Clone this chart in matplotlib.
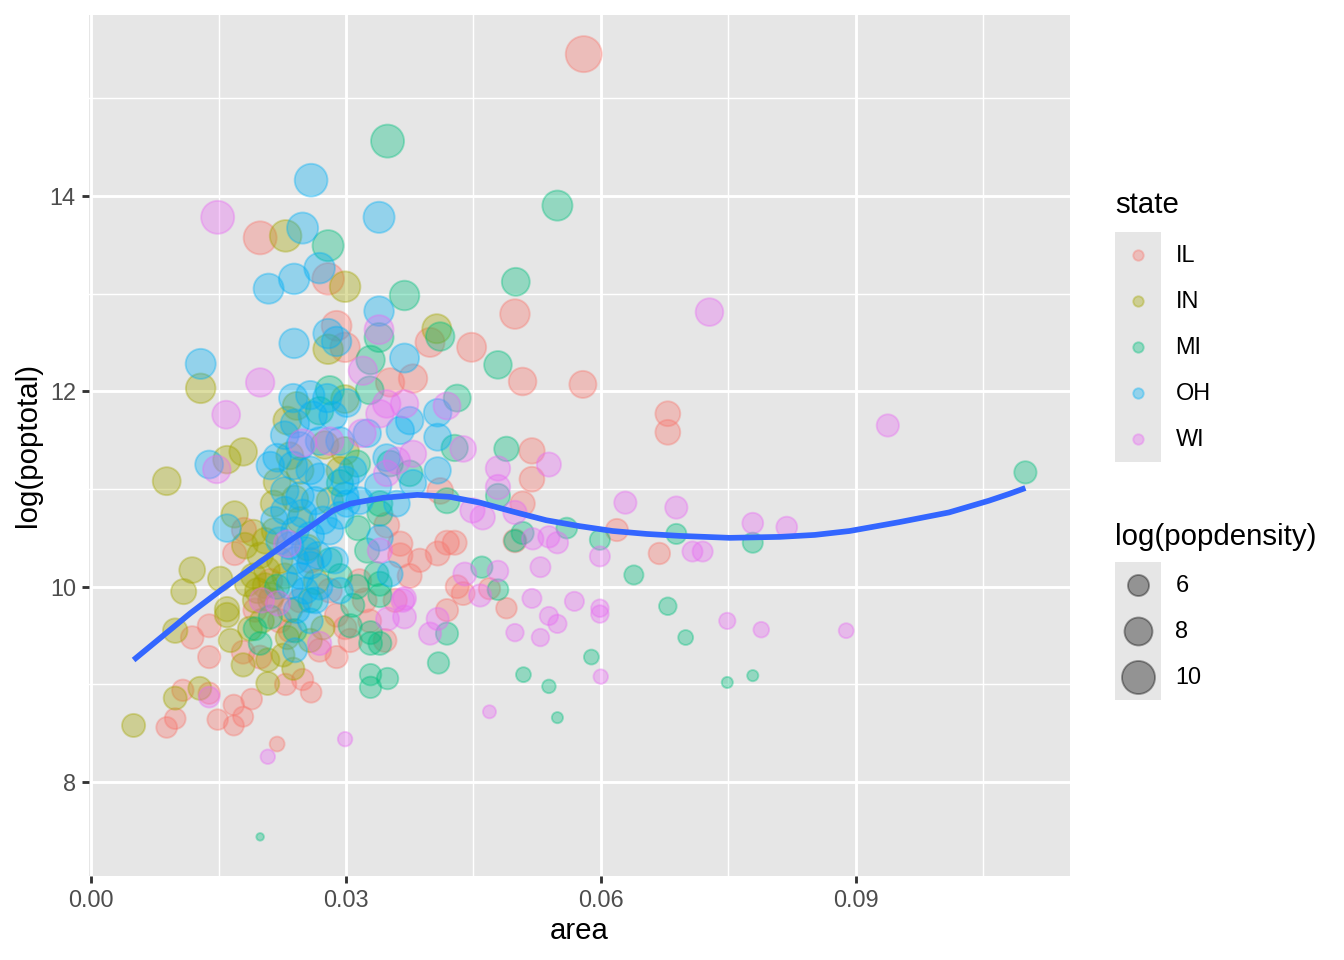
import numpy as np
import matplotlib
matplotlib.use("Agg")
import matplotlib.pyplot as plt
from matplotlib.patches import Rectangle

plt.rcParams['font.family'] = ['Liberation Sans', 'DejaVu Sans']

# ---------------- data: (area, log(poptotal), log(popdensity)) ----------------
IL = [(0.0580, 15.45, 11.39), (0.0199, 13.57, 10.0), (0.0279, 13.15, 9.4), (0.0499, 12.79, 8.6),
      (0.0289, 12.67, 8.7), (0.0299, 12.45, 8.6), (0.0399, 12.50, 8.4), (0.0448, 12.45, 8.4),
      (0.0379, 12.13, 8.2), (0.0352, 12.09, 8.2), (0.0508, 12.10, 7.9), (0.0579, 12.07, 7.7),
      (0.0679, 11.77, 7.0), (0.0679, 11.58, 7.0), (0.0519, 11.39, 7.2), (0.0519, 11.10, 7.0),
      (0.0508, 10.85, 6.9), (0.0499, 10.47, 6.5), (0.0619, 10.58, 6.3), (0.0669, 10.34, 6.1),
      (0.0469, 9.98, 6.1), (0.0489, 9.78, 5.9), (0.0419, 9.76, 6.3), (0.0438, 9.93, 6.5),
      (0.0411, 10.98, 7.3), (0.0348, 10.63, 7.1), (0.0364, 10.44, 6.9), (0.0364, 10.32, 6.9),
      (0.0419, 10.45, 6.8), (0.0428, 10.45, 6.8), (0.0408, 10.34, 6.8), (0.0431, 10.00, 6.5),
      (0.0328, 9.65, 6.5), (0.0299, 9.58, 6.5), (0.0289, 9.71, 6.6), (0.0289, 9.28, 6.3),
      (0.0180, 10.58, 6.9), (0.0169, 10.34, 6.6), (0.0139, 9.60, 6.5), (0.0119, 9.48, 6.4),
      (0.0139, 9.28, 6.3), (0.0179, 9.33, 6.5), (0.0199, 9.28, 6.5), (0.0229, 9.00, 6.1),
      (0.0249, 9.05, 6.1), (0.0259, 8.92, 5.95), (0.0108, 8.94, 6.1), (0.0139, 8.91, 6.1),
      (0.0099, 8.65, 5.95), (0.0089, 8.56, 5.95), (0.0149, 8.64, 5.9), (0.0168, 8.79, 5.9),
      (0.0189, 8.85, 5.95), (0.0179, 8.67, 5.8), (0.0168, 8.58, 5.8), (0.0219, 8.39, 4.9),
      (0.0246, 9.86, 6.8), (0.0222, 9.65, 6.6), (0.0269, 9.35, 6.5), (0.0305, 9.45, 6.6),
      (0.0322, 9.86, 6.8), (0.0375, 10.11, 6.8), (0.0211, 10.06, 6.8), (0.0258, 10.27, 7.1),
      (0.0281, 9.96, 6.8), (0.0234, 9.55, 6.5), (0.0193, 9.76, 6.6), (0.0346, 9.45, 6.5),
      (0.0358, 9.86, 6.6), (0.0387, 10.27, 6.6), (0.0316, 10.06, 6.6)]

IN = [(0.0229, 13.59, 9.4), (0.0299, 13.07, 9.0), (0.0279, 12.43, 8.6), (0.0407, 12.64, 8.4),
      (0.0129, 12.03, 8.6), (0.0231, 11.70, 8.0), (0.0179, 11.38, 7.9), (0.0160, 11.30, 7.9),
      (0.0089, 11.08, 8.0), (0.0219, 11.07, 7.7), (0.0169, 10.74, 7.5), (0.0191, 10.55, 7.5),
      (0.0119, 10.17, 7.3), (0.0109, 9.95, 7.1), (0.0160, 9.77, 6.9), (0.0099, 9.55, 6.9),
      (0.0160, 9.71, 6.9), (0.0187, 9.57, 6.8), (0.0179, 9.20, 6.6), (0.0208, 9.25, 6.6),
      (0.0208, 9.01, 6.5), (0.0238, 9.16, 6.3), (0.0231, 9.48, 6.6), (0.0273, 9.58, 6.6),
      (0.0128, 8.96, 6.5), (0.0099, 8.86, 6.5), (0.0050, 8.58, 6.5), (0.0207, 10.17, 7.3),
      (0.0184, 10.03, 7.1), (0.0199, 10.32, 7.3), (0.0205, 10.47, 7.3), (0.0216, 10.57, 7.3),
      (0.0193, 9.86, 6.9), (0.0211, 9.86, 6.9), (0.0228, 10.11, 7.1), (0.0234, 9.76, 6.9),
      (0.0201, 9.65, 6.8), (0.0246, 11.19, 7.7), (0.0234, 11.34, 7.7), (0.0281, 10.88, 7.5),
      (0.0293, 11.19, 7.7), (0.0258, 9.45, 6.6), (0.0226, 9.30, 6.5), (0.0181, 10.42, 7.3),
      (0.0222, 10.27, 7.3), (0.0246, 10.68, 7.5), (0.0191, 10.11, 7.1), (0.0196, 9.96, 7.1),
      (0.0205, 10.01, 7.1), (0.0213, 9.91, 7.0), (0.0299, 11.39, 7.9), (0.0299, 11.92, 8.0),
      (0.0242, 11.85, 8.0), (0.0164, 9.45, 6.6), (0.0152, 10.08, 6.9), (0.0255, 10.40, 7.3),
      (0.0265, 10.05, 7.1), (0.0240, 10.90, 7.5), (0.0215, 10.85, 7.4), (0.0275, 11.45, 7.9)]

MI = [(0.0349, 14.56, 10.0), (0.0549, 13.90, 8.8), (0.0279, 13.49, 9.2), (0.0500, 13.12, 8.0),
      (0.0369, 12.98, 8.6), (0.0339, 12.55, 8.4), (0.0411, 12.56, 8.2), (0.0329, 12.32, 8.2),
      (0.0479, 12.27, 7.9), (0.0281, 12.01, 8.2), (0.0328, 12.01, 8.0), (0.0431, 11.93, 7.7),
      (0.0428, 11.42, 7.5), (0.0313, 11.26, 7.5), (0.0293, 11.06, 7.5), (0.0375, 11.16, 7.3),
      (0.0419, 10.88, 7.1), (0.0340, 10.85, 7.1), (0.0340, 10.75, 7.1), (0.0314, 10.60, 6.9),
      (0.0325, 10.37, 6.9), (0.0336, 10.13, 6.8), (0.0340, 10.03, 6.8), (0.0313, 10.00, 6.8),
      (0.0340, 9.91, 6.6), (0.0308, 9.81, 6.6), (0.0329, 9.53, 6.5), (0.0329, 9.42, 6.5),
      (0.0340, 9.42, 6.5), (0.0329, 9.10, 6.1), (0.0349, 9.06, 6.1), (0.0329, 8.97, 6.1),
      (0.0409, 9.22, 6.1), (0.0419, 9.52, 6.3), (0.0199, 9.42, 6.5), (0.0219, 10.00, 6.9),
      (0.0211, 9.69, 6.6), (0.0193, 9.57, 6.5), (0.0258, 9.86, 6.8), (0.0281, 10.27, 6.9),
      (0.0293, 10.11, 6.8), (0.0240, 9.55, 6.6), (0.0305, 9.60, 6.6), (0.0479, 10.93, 6.8),
      (0.0489, 11.41, 6.9), (0.0460, 10.20, 6.1), (0.0479, 9.97, 5.95), (0.0508, 10.55, 6.3),
      (0.0499, 10.47, 6.1), (0.0560, 10.60, 5.95), (0.0599, 10.48, 5.8), (0.0639, 10.12, 5.6),
      (0.0689, 10.54, 5.8), (0.0779, 10.45, 5.8), (0.0679, 9.80, 5.3), (0.0700, 9.48, 4.9),
      (0.0589, 9.28, 4.9), (0.0509, 9.10, 4.9), (0.0539, 8.98, 4.75), (0.0749, 9.02, 4.55),
      (0.0779, 9.09, 4.55), (0.0549, 8.66, 4.55), (0.1100, 11.17, 6.3), (0.0199, 7.44, 4.44),
      (0.0269, 11.80, 7.9), (0.0352, 11.26, 7.3)]

OH = [(0.0259, 14.16, 9.9), (0.0249, 13.67, 9.2), (0.0339, 13.78, 9.2), (0.0269, 13.26, 9.0),
      (0.0239, 13.15, 9.0), (0.0209, 13.05, 8.8), (0.0339, 12.82, 8.6), (0.0279, 12.59, 8.6),
      (0.0289, 12.51, 8.6), (0.0239, 12.49, 8.6), (0.0369, 12.34, 8.4), (0.0129, 12.28, 8.8),
      (0.0139, 11.25, 8.0), (0.0160, 10.60, 7.9), (0.0238, 11.93, 8.2), (0.0258, 11.96, 8.2),
      (0.0278, 11.93, 8.2), (0.0240, 11.67, 8.2), (0.0261, 11.75, 8.2), (0.0228, 11.55, 8.0),
      (0.0246, 11.44, 8.0), (0.0269, 11.49, 8.0), (0.0219, 11.32, 8.0), (0.0238, 11.24, 8.0),
      (0.0258, 11.19, 8.0), (0.0269, 11.12, 8.0), (0.0228, 10.98, 7.9), (0.0246, 10.93, 7.9),
      (0.0264, 10.88, 7.9), (0.0228, 10.78, 7.9), (0.0249, 10.75, 7.9), (0.0273, 10.68, 7.9),
      (0.0240, 10.57, 7.9), (0.0258, 10.52, 7.9), (0.0234, 10.42, 7.7), (0.0252, 10.37, 7.7),
      (0.0267, 10.32, 7.7), (0.0240, 10.27, 7.7), (0.0258, 10.22, 7.7), (0.0246, 10.11, 7.5),
      (0.0234, 10.01, 7.5), (0.0252, 9.96, 7.5), (0.0264, 9.86, 7.3), (0.0242, 9.76, 7.3),
      (0.0258, 9.65, 7.1), (0.0240, 9.35, 6.8), (0.0281, 10.57, 7.7), (0.0293, 10.73, 7.7),
      (0.0299, 10.93, 7.7), (0.0287, 10.27, 7.5), (0.0293, 9.96, 7.3), (0.0216, 10.68, 7.7),
      (0.0222, 10.47, 7.7), (0.0299, 11.09, 7.9), (0.0316, 10.88, 7.7), (0.0211, 11.24, 7.9),
      (0.0293, 11.49, 8.0), (0.0285, 11.75, 8.0), (0.0301, 11.88, 8.0), (0.0308, 11.19, 7.9),
      (0.0325, 11.57, 7.9), (0.0348, 11.32, 7.7), (0.0364, 11.60, 7.9), (0.0375, 11.70, 7.9),
      (0.0408, 11.78, 7.9), (0.0408, 11.53, 7.7), (0.0408, 11.19, 7.5), (0.0379, 11.06, 7.5),
      (0.0338, 11.03, 7.5), (0.0360, 10.85, 7.3), (0.0301, 10.85, 7.5), (0.0340, 10.50, 7.3),
      (0.0352, 10.13, 7.1), (0.0269, 10.00, 7.3)]

WI = [(0.0149, 13.78, 10.0), (0.0728, 12.81, 7.9), (0.0339, 12.63, 8.4), (0.0320, 12.21, 8.2),
      (0.0199, 12.09, 8.2), (0.0159, 11.76, 8.0), (0.0148, 11.20, 7.9), (0.0249, 11.47, 7.9),
      (0.0281, 11.49, 7.9), (0.0231, 10.44, 7.7), (0.0201, 9.86, 6.9), (0.0220, 9.83, 6.9),
      (0.0269, 9.42, 6.6), (0.0319, 11.57, 7.9), (0.0340, 11.77, 7.9), (0.0348, 11.87, 7.9),
      (0.0369, 11.87, 7.9), (0.0419, 11.85, 7.7), (0.0379, 11.36, 7.5), (0.0360, 11.29, 7.5),
      (0.0348, 11.16, 7.3), (0.0438, 11.41, 7.3), (0.0449, 10.78, 6.9), (0.0461, 10.71, 6.9),
      (0.0340, 10.37, 6.9), (0.0440, 10.13, 6.5), (0.0367, 9.86, 6.5), (0.0369, 9.69, 6.5),
      (0.0349, 9.67, 6.5), (0.0369, 9.88, 6.5), (0.0399, 9.52, 6.3), (0.0408, 9.67, 6.3),
      (0.0458, 9.91, 6.3), (0.0479, 11.21, 6.9), (0.0539, 11.25, 6.8), (0.0479, 11.02, 6.9),
      (0.0499, 10.76, 6.6), (0.0629, 10.86, 6.3), (0.0689, 10.81, 6.3), (0.0520, 10.49, 6.1),
      (0.0539, 10.51, 6.1), (0.0549, 10.45, 6.1), (0.0599, 10.31, 5.8), (0.0708, 10.36, 5.8),
      (0.0720, 10.36, 5.8), (0.0779, 10.65, 5.95), (0.0819, 10.61, 5.95), (0.0529, 10.20, 5.8),
      (0.0479, 10.16, 5.95), (0.0519, 9.88, 5.6), (0.0569, 9.85, 5.6), (0.0599, 9.78, 5.3),
      (0.0599, 9.72, 5.3), (0.0539, 9.70, 5.45), (0.0549, 9.62, 5.45), (0.0499, 9.53, 5.3),
      (0.0529, 9.48, 5.3), (0.0749, 9.65, 5.1), (0.0789, 9.56, 5.0), (0.0889, 9.55, 4.9),
      (0.0938, 11.65, 6.3), (0.0600, 9.08, 4.85), (0.0469, 8.72, 4.7), (0.0299, 8.44, 4.85),
      (0.0208, 8.26, 4.85), (0.0139, 8.87, 5.95)]

states = ["IL", "IN", "MI", "OH", "WI"]
state_data = [IL, IN, MI, OH, WI]
state_colors = ["#F8766D", "#A3A500", "#00BF7D", "#00B0F6", "#E76BF3"]

# loess curve
smooth_x = [0.0050, 0.0117, 0.0152, 0.0200, 0.0234, 0.0246, 0.0269, 0.0285, 0.0305, 0.0344,
            0.0384, 0.0422, 0.0458, 0.0496, 0.0536, 0.0575, 0.0614, 0.0654, 0.0693, 0.0752,
            0.0811, 0.0852, 0.0893, 0.0951, 0.1010, 0.1057, 0.1081, 0.1100]
smooth_y = [9.25, 9.73, 9.96, 10.26, 10.47, 10.54, 10.68, 10.78, 10.85, 10.91,
            10.94, 10.92, 10.86, 10.77, 10.68, 10.62, 10.57, 10.54, 10.52, 10.50,
            10.51, 10.53, 10.57, 10.66, 10.76, 10.88, 10.95, 11.01]

x_breaks = [0.00, 0.03, 0.06, 0.09]
x_minor = [0.015, 0.045, 0.075, 0.105]
y_breaks = [8, 10, 12, 14]
y_minor = [9, 11, 13, 15]
size_breaks = [6, 8, 10]

# ---------------- helpers ----------------
PT = 72.27 / 25.4
STROKE = 96 / 25.4
ALPHA = 0.36
PANEL = "#E6E6E6"
all_dens = np.array([p[2] for d in state_data for p in d])
vmin, vmax = all_dens.min(), all_dens.max()


def gg_size(v):
    frac = (np.asarray(v, float) - vmin) / (vmax - vmin)
    return 1 + 5 * np.sqrt(np.clip(frac, 0, 1))


def marker_area(size):
    d = 0.75 * (np.asarray(size) * PT + 0.5 * STROKE / 2)
    return d ** 2


edge_lw = 0.5 * STROKE / 2 * 72 / 96

fig = plt.figure(figsize=(7, 5), dpi=192)
W, H = 1344, 960
px_l, px_r, px_t, px_b = 89, 1070, 15, 876
ax = fig.add_axes([px_l / W, 1 - px_b / H, (px_r - px_l) / W, (px_b - px_t) / H])
ax.set_facecolor(PANEL)
for s in ax.spines.values():
    s.set_visible(False)

xs, ys, ss, cs = [], [], [], []
for data, col in zip(state_data, state_colors):
    for a, lp, dn in data:
        xs.append(a); ys.append(lp); ss.append(dn); cs.append(col)
rgba = matplotlib.colors.to_rgba_array(cs, alpha=ALPHA)
ax.scatter(xs, ys, s=marker_area(gg_size(ss)), facecolors=rgba, edgecolors=rgba,
           linewidths=edge_lw, zorder=2)
ax.plot(smooth_x, smooth_y, color="#3366FF", lw=1 * PT * 72 / 96, zorder=3,
        solid_capstyle="butt", solid_joinstyle="round")

allx = xs + smooth_x
ally = ys + smooth_y
xr = max(allx) - min(allx)
yr = max(ally) - min(ally)
ax.set_xlim(min(allx) - 0.05 * xr, max(allx) + 0.05 * xr)
ax.set_ylim(min(ally) - 0.05 * yr, max(ally) + 0.05 * yr)

ax.set_xticks(x_breaks)
ax.set_xticklabels([f"{v:.2f}" for v in x_breaks])
ax.set_yticks(y_breaks)
ax.set_yticklabels([str(v) for v in y_breaks])
ax.set_xticks(x_minor, minor=True)
ax.set_yticks(y_minor, minor=True)
ax.grid(True, which="major", color="white", lw=1.07, zorder=0)
ax.grid(True, which="minor", color="white", lw=0.53, zorder=0)
ax.set_axisbelow(True)
ax.tick_params(which="major", length=2.74, width=1.07, color="#333333",
               labelsize=8.8, labelcolor="#4D4D4D", pad=2.2)
ax.tick_params(which="minor", length=0)

fig.text(579.5 / W, 1 - 931 / H, "area", ha="center", va="center", fontsize=11)
fig.text(28 / W, 1 - 445 / H, "log(poptotal)", ha="center", va="center",
         rotation=90, fontsize=11)

# ---------------- legends ----------------
lg = fig.add_axes([0, 0, 1, 1], zorder=5)
lg.set_xlim(0, W)
lg.set_ylim(H, 0)
lg.axis("off")

key = 46
lx = 1115
lg.text(lx, 205, "state", fontsize=11, va="center", ha="left")
top = 232
lg.add_patch(Rectangle((lx, top), key, key * len(states), fc=PANEL, ec="none"))
for i, (st, col) in enumerate(zip(states, state_colors)):
    cy = top + key * (i + 0.5)
    c = matplotlib.colors.to_rgba(col, ALPHA)
    lg.scatter([lx + key / 2], [cy], s=marker_area(1.5), facecolors=[c], edgecolors=[c],
               linewidths=edge_lw)
    lg.text(lx + key + 14.5, cy, st, fontsize=8.8, va="center", ha="left")

lg.text(lx, 537, "log(popdensity)", fontsize=11, va="center", ha="left")
top2 = 562
lg.add_patch(Rectangle((lx, top2), key, key * len(size_breaks), fc=PANEL, ec="none"))
for i, b in enumerate(size_breaks):
    cy = top2 + key * (i + 0.5)
    c = (0, 0, 0, ALPHA)
    lg.scatter([lx + key / 2], [cy], s=marker_area(gg_size(b)), facecolors=[c],
               edgecolors=[c], linewidths=edge_lw)
    lg.text(lx + key + 14.5, cy, str(b), fontsize=8.8, va="center", ha="left")

fig.savefig("out.png", dpi=192, facecolor="white")
